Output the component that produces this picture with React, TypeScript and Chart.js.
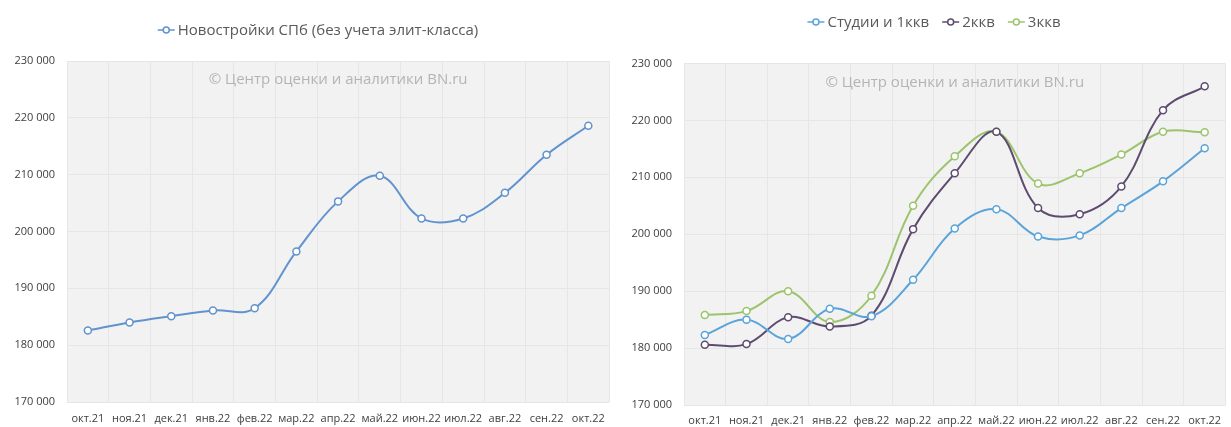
import React, { useEffect, useRef } from "react";
import { Chart, registerables } from "chart.js";

Chart.register(...registerables);

const months = ["окт.21", "ноя.21", "дек.21", "янв.22", "фев.22", "мар.22", "апр.22", "май.22", "июн.22", "июл.22", "авг.22", "сен.22", "окт.22"];

const spbNewLabel = "Новостройки СПб (без учета элит-класса)";
const spbNew = [182600, 184000, 185100, 186100, 186500, 196500, 205300, 209800, 202300, 202300, 206800, 213500, 218600];

const studioLabel = "Студии и 1ккв";
const studio1k = [182300, 185000, 181600, 186900, 185600, 192000, 201000, 204400, 199600, 199800, 204600, 209300, 215100];
const room2Label = "2ккв";
const room2 = [180600, 180700, 185400, 183800, 185700, 200900, 210700, 218000, 204600, 203500, 208400, 221800, 226000];
const room3Label = "3ккв";
const room3 = [185800, 186500, 190000, 184600, 189200, 205000, 213700, 218000, 208900, 210700, 214000, 218000, 217900];

const yMin = 170000;
const yMax = 230000;
const yStep = 10000;

const watermark = "© Центр оценки и аналитики BN.ru";
const FONT = "'Open Sans', 'DejaVu Sans', sans-serif";

const fmt = (v: number) => String(v).replace(/\B(?=(\d{3})+(?!\d))/g, " ");

const bgPlugin = {
  id: "plotBg",
  beforeDraw(chart: any) {
    const { ctx, chartArea } = chart;
    ctx.save();
    ctx.fillStyle = "#f2f2f2";
    ctx.fillRect(chartArea.left, chartArea.top, chartArea.right - chartArea.left, chartArea.bottom - chartArea.top);
    ctx.restore();
  },
};

const watermarkPlugin = {
  id: "watermark",
  beforeDatasetsDraw(chart: any) {
    const { ctx, chartArea } = chart;
    ctx.save();
    ctx.font = `15px ${FONT}`;
    ctx.fillStyle = "#b4b4b4";
    ctx.textAlign = "center";
    ctx.textBaseline = "middle";
    ctx.fillText(watermark, (chartArea.left + chartArea.right) / 2, chartArea.top + 19);
    ctx.restore();
  },
};

const legendPlugin = {
  id: "lineLegend",
  afterDraw(chart: any, _args: any, opts: any) {
    const { ctx } = chart;
    const ds = chart.data.datasets;
    const markerW = 17;
    const gapText = 3;
    const gapItem = 13;
    ctx.save();
    ctx.font = `15px ${FONT}`;
    ctx.textBaseline = "middle";
    ctx.textAlign = "left";
    const widths = ds.map((d: any) => markerW + gapText + ctx.measureText(d.label).width);
    const total = widths.reduce((a: number, b: number) => a + b, 0) + gapItem * (ds.length - 1);
    let x = opts.centerX - total / 2;
    const y = opts.y;
    ds.forEach((d: any, i: number) => {
      ctx.strokeStyle = d.borderColor;
      ctx.lineWidth = 1.5;
      ctx.beginPath();
      ctx.moveTo(x, y);
      ctx.lineTo(x + markerW, y);
      ctx.stroke();
      ctx.beginPath();
      ctx.arc(x + markerW / 2, y, 3, 0, Math.PI * 2);
      ctx.fillStyle = "#ffffff";
      ctx.fill();
      ctx.stroke();
      ctx.fillStyle = "#595959";
      ctx.fillText(d.label, x + markerW + gapText, y + 0.5);
      x += widths[i] + gapItem;
    });
    ctx.restore();
  },
};

function makeDataset(label: string, data: number[], color: string) {
  return {
    label,
    data,
    borderColor: color,
    backgroundColor: color,
    borderWidth: 2,
    pointRadius: 3.5,
    pointBackgroundColor: "#ffffff",
    pointBorderColor: color,
    pointBorderWidth: 1.5,
    tension: 0.38,
    fill: false,
  };
}

function makeOptions(cfg: { top: number; right: number; yWidth: number; xHeight: number; xPad: number; legendX: number; legendY: number }) {
  return {
    responsive: false,
    animation: false,
    layout: { padding: { top: cfg.top, left: 0, right: cfg.right, bottom: 0 } },
    plugins: {
      legend: { display: false },
      tooltip: { enabled: false },
      lineLegend: { centerX: cfg.legendX, y: cfg.legendY },
    },
    scales: {
      x: {
        type: "category",
        offset: true,
        grid: { offset: true, color: "#e6e6e6", drawTicks: false },
        border: { display: false },
        ticks: { color: "#404040", font: { family: FONT, size: 11 }, padding: cfg.xPad, maxRotation: 0, autoSkip: false },
        afterFit(scale: any) {
          scale.height = cfg.xHeight;
        },
      },
      y: {
        min: yMin,
        max: yMax,
        grid: { color: "#e6e6e6", drawTicks: false },
        border: { display: false },
        ticks: {
          stepSize: yStep,
          color: "#404040",
          font: { family: FONT, size: 11 },
          padding: 12,
          callback: (v: any) => fmt(Number(v)),
        },
        afterFit(scale: any) {
          scale.width = cfg.yWidth;
        },
      },
    },
  };
}

function LineChart({ width, datasets, cfg }: { width: number; datasets: any[]; cfg: any }) {
  const ref = useRef<HTMLCanvasElement | null>(null);
  useEffect(() => {
    if (!ref.current) return;
    const chart = new Chart(ref.current, {
      type: "line",
      data: { labels: months, datasets },
      options: makeOptions(cfg) as any,
      plugins: [bgPlugin, watermarkPlugin, legendPlugin],
    });
    return () => chart.destroy();
  }, []);
  return <canvas ref={ref} width={width} height={427} style={{ width, height: 427, display: "block" }} />;
}

export default function App() {
  const leftSets = [makeDataset(spbNewLabel, spbNew, "#6193cf")];
  const rightSets = [
    makeDataset(studioLabel, studio1k, "#5ba4da"),
    makeDataset(room2Label, room2, "#5e4b70"),
    makeDataset(room3Label, room3, "#9cc46c"),
  ];
  return (
    <div style={{ position: "absolute", left: 0, top: 0, width: 1231, height: 427, background: "#ffffff", display: "flex" }}>
      <LineChart
        width={615}
        datasets={leftSets}
        cfg={{ top: 61, right: 2, yWidth: 67, xHeight: 25, xPad: 10, legendX: 318, legendY: 30 }}
      />
      <LineChart
        width={616}
        datasets={rightSets}
        cfg={{ top: 63.5, right: 0, yWidth: 69, xHeight: 22, xPad: 9, legendX: 319, legendY: 22 }}
      />
    </div>
  );
}
